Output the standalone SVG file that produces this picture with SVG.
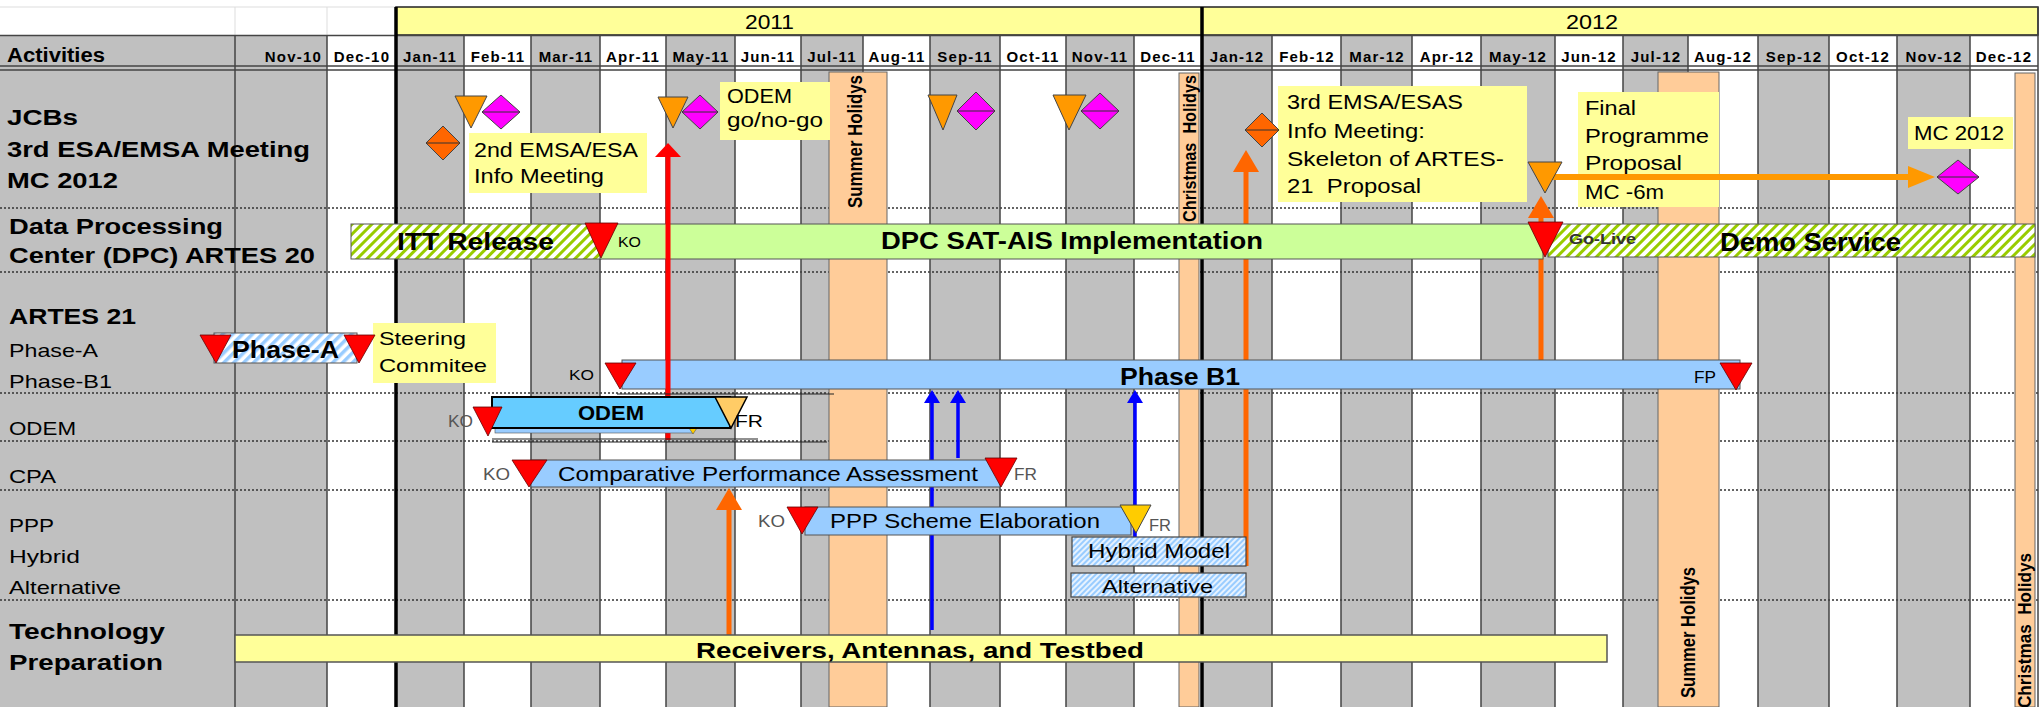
<svg xmlns="http://www.w3.org/2000/svg" width="2044" height="707" viewBox="0 0 2044 707">
<style>
text{font-family:"Liberation Sans",Arial,sans-serif;fill:#000}
.h{font-size:22px;font-weight:bold}
.s{font-size:19px}
.mon{font-size:15px;font-weight:bold;letter-spacing:1.2px;text-anchor:middle}
.yr{font-size:20px}
.n{font-size:20px}
.bb{font-size:24px;font-weight:bold}
.bn{font-size:21px}
.ko{font-size:15px}
.gr{fill:#555}
.hol{font-size:16px;font-weight:bold}
.gcol{fill:#c0c0c0}
.vl{stroke:#444;stroke-width:1.5}
.vh{stroke:#000;stroke-width:3.5}
.dot{stroke:#333;stroke-width:1.3;stroke-dasharray:2 2}
.holbar{fill:#ffcc99;stroke:#666;stroke-width:1}
.note{fill:#ffff99}
.tri-o{fill:#ff9900;stroke:#444;stroke-width:1}
.tri-r{fill:#ff0000;stroke:#600;stroke-width:0.8}
.tri-y{fill:#ffcc66;stroke:#000;stroke-width:1.5}
.dia-m{fill:#ff00ff;stroke:#444;stroke-width:1}
.dia-o{fill:#ff6600;stroke:#444;stroke-width:1}
.mid{stroke:#333;stroke-width:1}
.bar-b{fill:#99ccff;stroke:#555;stroke-width:1}
.thin{stroke:#222;stroke-width:1.2}
</style>
<defs>
<pattern id="hatchG" patternUnits="userSpaceOnUse" width="7" height="7" patternTransform="rotate(45)">
<rect width="7" height="7" fill="#fff"/><rect width="3" height="7" fill="#99cc00"/>
</pattern>
<pattern id="hatchB" patternUnits="userSpaceOnUse" width="7" height="7" patternTransform="rotate(45)">
<rect width="7" height="7" fill="#fff"/><rect width="3.5" height="7" fill="#99ccff"/>
</pattern>
<pattern id="hatchB2" patternUnits="userSpaceOnUse" width="4" height="4" patternTransform="rotate(45)">
<rect width="4" height="4" fill="#e6f2ff"/><rect width="2" height="4" fill="#99ccff"/>
</pattern>
<marker id="mRed" markerUnits="userSpaceOnUse" markerWidth="14" markerHeight="26" viewBox="0 0 14 26" refX="0" refY="13" orient="auto"><path d="M0,0 L14,13 L0,26 z" fill="#ff0000"/></marker>
<marker id="mOrR" markerUnits="userSpaceOnUse" markerWidth="22" markerHeight="26" viewBox="0 0 22 26" refX="0" refY="13" orient="auto"><path d="M0,0 L22,13 L0,26 z" fill="#ff6600"/></marker>
<marker id="mOrY" markerUnits="userSpaceOnUse" markerWidth="27" markerHeight="22" viewBox="0 0 27 22" refX="0" refY="11" orient="auto"><path d="M0,0 L27,11 L0,22 z" fill="#ff9900"/></marker>
<marker id="mBlue" markerUnits="userSpaceOnUse" markerWidth="13" markerHeight="16" viewBox="0 0 13 16" refX="0" refY="8" orient="auto"><path d="M0,0 L13,8 L0,16 z" fill="#0000ff"/></marker>
</defs>

<rect width="2044" height="707" fill="#fff"/>

<g id="grid">
<rect x="0" y="35" width="235" height="672" class="gcol"/>
<rect x="235" y="35" width="92" height="672" class="gcol"/>
<rect x="396" y="35" width="68" height="672" class="gcol"/>
<rect x="531" y="35" width="69" height="672" class="gcol"/>
<rect x="666" y="35" width="69" height="672" class="gcol"/>
<rect x="801" y="35" width="62" height="672" class="gcol"/>
<rect x="930" y="35" width="70" height="672" class="gcol"/>
<rect x="1066" y="35" width="68" height="672" class="gcol"/>
<rect x="1202" y="35" width="70" height="672" class="gcol"/>
<rect x="1341" y="35" width="71" height="672" class="gcol"/>
<rect x="1481" y="35" width="74" height="672" class="gcol"/>
<rect x="1623" y="35" width="65" height="672" class="gcol"/>
<rect x="1758" y="35" width="71" height="672" class="gcol"/>
<rect x="1897" y="35" width="73" height="672" class="gcol"/>
<path d="M0,7H396M235,7V35M327,7V35" stroke="#ddd" stroke-width="1"/>
<rect x="396" y="7" width="1642" height="28" fill="#ffff99" stroke="#222" stroke-width="1.5"/>
<path class="dot" d="M0,208H2038M0,272H2038M0,393H2038M0,441H2038M0,490H2038M0,600H2038"/>
<path class="vl" d="M235,35V707M327,35V707M464,35V707M531,35V707M600,35V707M666,35V707M735,35V707M801,35V707M863,35V707M930,35V707M1000,35V707M1066,35V707M1134,35V707M1272,35V707M1341,35V707M1412,35V707M1481,35V707M1555,35V707M1623,35V707M1688,35V707M1758,35V707M1829,35V707M1897,35V707M1970,35V707M2038,7V707"/>
<path d="M0,35.5H2038M0,66H2038M0,70H2038" stroke="#444" stroke-width="1.5"/>
<path class="vh" d="M396,7V707M1202,7V707"/>
<text class="yr" x="745" y="29" textLength="49" lengthAdjust="spacingAndGlyphs">2011</text>
<text class="yr" x="1566" y="29" textLength="52" lengthAdjust="spacingAndGlyphs">2012</text>
<text x="7" y="62" style="font-size:20px;font-weight:bold" textLength="98" lengthAdjust="spacingAndGlyphs">Activities</text>
<text class="mon" x="322" y="62" style="text-anchor:end">Nov-10</text>
<text class="mon" x="362" y="62">Dec-10</text>
<text class="mon" x="430" y="62">Jan-11</text>
<text class="mon" x="498" y="62">Feb-11</text>
<text class="mon" x="566" y="62">Mar-11</text>
<text class="mon" x="633" y="62">Apr-11</text>
<text class="mon" x="701" y="62">May-11</text>
<text class="mon" x="768" y="62">Jun-11</text>
<text class="mon" x="832" y="62">Jul-11</text>
<text class="mon" x="897" y="62">Aug-11</text>
<text class="mon" x="965" y="62">Sep-11</text>
<text class="mon" x="1033" y="62">Oct-11</text>
<text class="mon" x="1100" y="62">Nov-11</text>
<text class="mon" x="1168" y="62">Dec-11</text>
<text class="mon" x="1237" y="62">Jan-12</text>
<text class="mon" x="1307" y="62">Feb-12</text>
<text class="mon" x="1377" y="62">Mar-12</text>
<text class="mon" x="1447" y="62">Apr-12</text>
<text class="mon" x="1518" y="62">May-12</text>
<text class="mon" x="1589" y="62">Jun-12</text>
<text class="mon" x="1656" y="62">Jul-12</text>
<text class="mon" x="1723" y="62">Aug-12</text>
<text class="mon" x="1794" y="62">Sep-12</text>
<text class="mon" x="1863" y="62">Oct-12</text>
<text class="mon" x="1934" y="62">Nov-12</text>
<text class="mon" x="2004" y="62">Dec-12</text>
</g>

<g id="row-labels">
<text class="h" x="7" y="125" textLength="71" lengthAdjust="spacingAndGlyphs">JCBs</text>
<text class="h" x="7" y="157" textLength="303" lengthAdjust="spacingAndGlyphs">3rd ESA/EMSA Meeting</text>
<text class="h" x="7" y="188" textLength="111" lengthAdjust="spacingAndGlyphs">MC 2012</text>
<text class="h" x="9" y="234" textLength="214" lengthAdjust="spacingAndGlyphs">Data Processing</text>
<text class="h" x="9" y="263" textLength="306" lengthAdjust="spacingAndGlyphs">Center (DPC) ARTES 20</text>
<text class="h" x="9" y="324" textLength="127" lengthAdjust="spacingAndGlyphs">ARTES 21</text>
<text class="s" x="9" y="357" textLength="89" lengthAdjust="spacingAndGlyphs">Phase-A</text>
<text class="s" x="9" y="388" textLength="103" lengthAdjust="spacingAndGlyphs">Phase-B1</text>
<text class="s" x="9" y="435" textLength="67" lengthAdjust="spacingAndGlyphs">ODEM</text>
<text class="s" x="9" y="483" textLength="47" lengthAdjust="spacingAndGlyphs">CPA</text>
<text class="s" x="9" y="532" textLength="45" lengthAdjust="spacingAndGlyphs">PPP</text>
<text class="s" x="9" y="563" textLength="71" lengthAdjust="spacingAndGlyphs">Hybrid</text>
<text class="s" x="9" y="594" textLength="112" lengthAdjust="spacingAndGlyphs">Alternative</text>
<text class="h" x="9" y="639" textLength="156" lengthAdjust="spacingAndGlyphs">Technology</text>
<text class="h" x="9" y="670" textLength="154" lengthAdjust="spacingAndGlyphs">Preparation</text>
</g>

<g id="summer-2011">
<rect class="holbar" x="829" y="72" width="58" height="635"/>
<text class="hol" transform="translate(862,208) scale(1.25,1) rotate(-90)" textLength="133" lengthAdjust="spacingAndGlyphs">Summer Holidys</text>
</g>
<g id="christmas-2011">
<rect class="holbar" x="1179" y="73" width="20" height="634"/>
<text class="hol" transform="translate(1196,222) scale(1.2,1) rotate(-90)" textLength="147" lengthAdjust="spacingAndGlyphs" style="white-space:pre">Christmas  Holidys</text>
</g>
<g id="summer-2012">
<rect class="holbar" x="1658" y="72" width="61" height="635"/>
<text class="hol" transform="translate(1695,698) scale(1.25,1) rotate(-90)" textLength="131" lengthAdjust="spacingAndGlyphs">Summer Holidys</text>
</g>
<g id="christmas-2012">
<rect class="holbar" x="2015" y="73" width="20" height="634"/>
<text class="hol" transform="translate(2031,708) scale(1.2,1) rotate(-90)" textLength="155" lengthAdjust="spacingAndGlyphs" style="white-space:pre">Christmas  Holidys</text>
</g>

<g id="note-2nd-meeting">
<rect class="note" x="469" y="133" width="178" height="60"/>
<text class="n" x="474" y="157" textLength="164" lengthAdjust="spacingAndGlyphs">2nd EMSA/ESA</text>
<text class="n" x="474" y="183" textLength="130" lengthAdjust="spacingAndGlyphs">Info Meeting</text>
</g>
<g id="note-odem-go">
<rect class="note" x="720" y="82" width="110" height="58"/>
<text class="n" x="727" y="103" textLength="65" lengthAdjust="spacingAndGlyphs">ODEM</text>
<text class="n" x="727" y="127" textLength="96" lengthAdjust="spacingAndGlyphs">go/no-go</text>
</g>
<g id="note-3rd-meeting">
<rect class="note" x="1278" y="86" width="249" height="116"/>
<text class="n" x="1287" y="109" textLength="176" lengthAdjust="spacingAndGlyphs">3rd EMSA/ESAS</text>
<text class="n" x="1287" y="138" textLength="138" lengthAdjust="spacingAndGlyphs">Info Meeting:</text>
<text class="n" x="1287" y="166" textLength="217" lengthAdjust="spacingAndGlyphs">Skeleton of ARTES-</text>
<text class="n" x="1287" y="193" textLength="134" lengthAdjust="spacingAndGlyphs" style="white-space:pre">21  Proposal</text>
</g>
<g id="note-final">
<rect class="note" x="1578" y="92" width="141" height="115"/>
<text class="n" x="1585" y="115" textLength="51" lengthAdjust="spacingAndGlyphs">Final</text>
<text class="n" x="1585" y="143" textLength="124" lengthAdjust="spacingAndGlyphs">Programme</text>
<text class="n" x="1585" y="170" textLength="97" lengthAdjust="spacingAndGlyphs">Proposal</text>
<text class="n" x="1585" y="199" textLength="79" lengthAdjust="spacingAndGlyphs">MC -6m</text>
</g>
<g id="note-mc2012">
<rect class="note" x="1908" y="117" width="105" height="32"/>
<text class="n" x="1914" y="140" textLength="90" lengthAdjust="spacingAndGlyphs">MC 2012</text>
</g>
<g id="note-steering">
<rect class="note" x="373" y="323" width="123" height="60"/>
<text class="n" x="379" y="345" style="font-size:19px" textLength="87" lengthAdjust="spacingAndGlyphs">Steering</text>
<text class="n" x="379" y="372" style="font-size:19px" textLength="108" lengthAdjust="spacingAndGlyphs">Commitee</text>
</g>

<g id="connectors">
<line x1="1246" y1="566" x2="1246" y2="172" stroke="#ff6600" stroke-width="5" marker-end="url(#mOrR)"/>
<line x1="729" y1="635" x2="729" y2="510" stroke="#ff6600" stroke-width="5" marker-end="url(#mOrR)"/>
<line x1="1541" y1="360" x2="1541" y2="218" stroke="#ff6600" stroke-width="5" marker-end="url(#mOrR)"/>
<line x1="1552" y1="177" x2="1908" y2="177" stroke="#ff9900" stroke-width="6" marker-end="url(#mOrY)"/>
<line x1="932" y1="630" x2="932" y2="403" stroke="#0000ff" stroke-width="3.5" marker-end="url(#mBlue)"/>
<line x1="958" y1="458" x2="958" y2="403" stroke="#0000ff" stroke-width="3.5" marker-end="url(#mBlue)"/>
<line x1="1135" y1="538" x2="1135" y2="403" stroke="#0000ff" stroke-width="3.5" marker-end="url(#mBlue)"/>
</g>

<g id="jcb-milestones">
<polygon class="dia-o" points="426,143 443,126 460,143 443,160"/><line class="mid" x1="426" y1="143" x2="460" y2="143"/>
<polygon class="tri-o" points="455,96 487,96 471,128"/>
<polygon class="dia-m" points="482,112 501,95 520,112 501,129"/><line class="mid" x1="482" y1="112" x2="520" y2="112"/>
<polygon class="tri-o" points="658,97 688,97 673,128"/>
<polygon class="dia-m" points="682,112 700,95 718,112 700,129"/><line class="mid" x1="682" y1="112" x2="718" y2="112"/>
<polygon class="tri-o" points="928,95 957,95 943,130"/>
<polygon class="dia-m" points="957,111 976,92 995,111 976,130"/><line class="mid" x1="957" y1="111" x2="995" y2="111"/>
<polygon class="tri-o" points="1053,95 1086,95 1069,130"/>
<polygon class="dia-m" points="1081,111 1100,93 1119,111 1100,129"/><line class="mid" x1="1081" y1="111" x2="1119" y2="111"/>
<polygon class="dia-o" points="1245,130 1262,113 1279,130 1262,147"/><line class="mid" x1="1245" y1="130" x2="1279" y2="130"/>
<polygon class="tri-o" points="1528,162 1562,162 1545,193"/>
<polygon class="dia-m" points="1937,177 1958,160 1979,177 1958,194"/><line class="mid" x1="1937" y1="177" x2="1979" y2="177"/>
</g>

<g id="dpc-itt">
<rect x="351" y="224" width="250" height="35" fill="url(#hatchG)" stroke="#555" stroke-width="1"/>
<text class="bb" x="397" y="250" textLength="157" lengthAdjust="spacingAndGlyphs">ITT Release</text>
</g>
<g id="dpc-impl">
<rect x="600" y="224" width="943" height="35" fill="#ccff99" stroke="#555" stroke-width="1"/>
<text class="bb" x="881" y="249" textLength="382" lengthAdjust="spacingAndGlyphs">DPC SAT-AIS Implementation</text>
<polygon class="tri-r" points="585,223 618,223 601,258"/>
<text class="ko" x="618" y="247" textLength="23" lengthAdjust="spacingAndGlyphs">KO</text>
</g>
<g id="dpc-demo">
<rect x="1548" y="224" width="487" height="33" fill="url(#hatchG)" stroke="#555" stroke-width="1"/>
<polygon class="tri-r" points="1528,222 1563,222 1545,257"/>
<text x="1569" y="244" style="font-size:14px;font-weight:bold;fill:#333" textLength="67" lengthAdjust="spacingAndGlyphs">Go-Live</text>
<text class="bb" x="1720" y="251" style="font-size:25px" textLength="181" lengthAdjust="spacingAndGlyphs">Demo Service</text>
</g>

<g id="phase-a">
<rect x="214" y="333" width="143" height="30" fill="url(#hatchB)" stroke="#555" stroke-width="1"/>
<text class="bb" x="232" y="358" style="font-size:23px" textLength="107" lengthAdjust="spacingAndGlyphs">Phase-A</text>
<polygon class="tri-r" points="200,335 231,335 216,363"/>
<polygon class="tri-r" points="344,335 375,335 359,363"/>
</g>

<g id="phase-b1">
<rect class="bar-b" x="622" y="360" width="1118" height="29"/>
<text class="bb" x="1120" y="385" textLength="120" lengthAdjust="spacingAndGlyphs">Phase B1</text>
<text class="ko" x="569" y="380" textLength="25" lengthAdjust="spacingAndGlyphs">KO</text>
<polygon class="tri-r" points="605,363 636,363 620,389"/>
<text class="ko" x="1694" y="383" style="font-size:16px" textLength="22" lengthAdjust="spacingAndGlyphs">FP</text>
<polygon class="tri-r" points="1720,363 1752,363 1736,390"/>
</g>

<g id="connector-red">
<line x1="668" y1="440" x2="668" y2="157" stroke="#ff0000" stroke-width="5" marker-end="url(#mRed)"/>
</g>

<g id="odem">
<path class="thin" d="M617,394H834M492,439H758M492,442H827"/>
<rect x="495" y="427" width="198" height="6" fill="#99ccff" stroke="#555" stroke-width="0.6"/>
<polygon points="689,428 697,428 693,434" fill="#ffcc00" stroke="#444" stroke-width="0.5"/>
<rect x="492" y="397" width="238" height="31" fill="#66ccff" stroke="#000" stroke-width="2"/>
<text class="bb" x="578" y="420" style="font-size:20px" textLength="66" lengthAdjust="spacingAndGlyphs">ODEM</text>
<text class="ko gr" x="448" y="427" style="font-size:16px" textLength="25" lengthAdjust="spacingAndGlyphs">KO</text>
<polygon class="tri-r" points="473,407 502,407 488,436"/>
<polygon class="tri-y" points="715,397 747,397 731,428"/>
<text x="735" y="427" style="font-size:17px" textLength="28" lengthAdjust="spacingAndGlyphs">FR</text>
</g>

<g id="cpa">
<rect class="bar-b" x="531" y="460" width="469" height="27"/>
<text class="bn" x="558" y="481" textLength="420" lengthAdjust="spacingAndGlyphs">Comparative Performance Assessment</text>
<text class="ko gr" x="483" y="480" style="font-size:16px" textLength="27" lengthAdjust="spacingAndGlyphs">KO</text>
<polygon class="tri-r" points="512,460 547,460 529,487"/>
<polygon class="tri-r" points="985,458 1017,458 1001,487"/>
<text class="ko gr" x="1014" y="480" style="font-size:16px" textLength="23" lengthAdjust="spacingAndGlyphs">FR</text>
</g>

<g id="ppp">
<rect class="bar-b" x="805" y="507" width="326" height="28"/>
<text class="bn" x="830" y="528" textLength="270" lengthAdjust="spacingAndGlyphs">PPP Scheme Elaboration</text>
<text class="ko gr" x="758" y="527" style="font-size:16px" textLength="27" lengthAdjust="spacingAndGlyphs">KO</text>
<polygon class="tri-r" points="787,507 818,507 802,534"/>
<polygon points="1120,505 1151,505 1136,533" fill="#ffcc00" stroke="#444" stroke-width="1"/>
<text class="ko gr" x="1149" y="531" style="font-size:16px" textLength="22" lengthAdjust="spacingAndGlyphs">FR</text>
</g>

<g id="hybrid-model">
<rect x="1072" y="537" width="174" height="29" fill="url(#hatchB2)" stroke="#444" stroke-width="1.2"/>
<text class="n" x="1088" y="558" textLength="142" lengthAdjust="spacingAndGlyphs">Hybrid Model</text>
</g>
<g id="alternative">
<rect x="1071" y="573" width="175" height="24" fill="url(#hatchB2)" stroke="#444" stroke-width="1.2"/>
<text class="n" x="1102" y="593" style="font-size:19px" textLength="111" lengthAdjust="spacingAndGlyphs">Alternative</text>
</g>

<g id="technology">
<rect x="235" y="635" width="1372" height="27" fill="#ffff99" stroke="#555" stroke-width="1.5"/>
<text class="h" x="696" y="658" textLength="448" lengthAdjust="spacingAndGlyphs">Receivers, Antennas, and Testbed</text>
</g>
</svg>
